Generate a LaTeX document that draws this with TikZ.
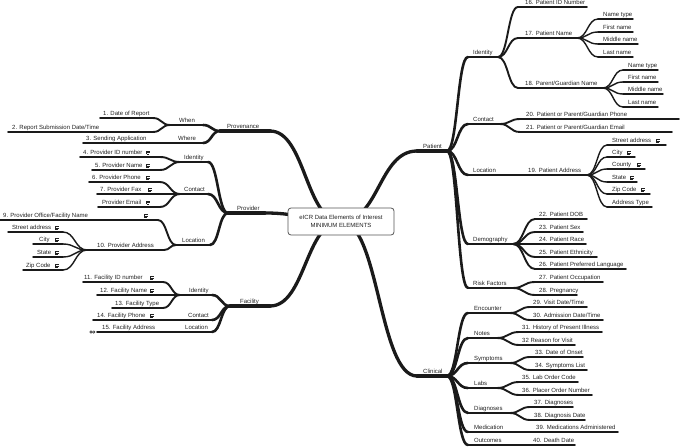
\documentclass[tikz,border=0pt]{standalone}
\usepackage{fontspec}
\setmainfont{Liberation Sans}
\usetikzlibrary{calc}
\definecolor{ink}{HTML}{1A1A1A}
\definecolor{txt}{HTML}{222222}
\definecolor{boxc}{HTML}{555555}
\newcommand\mmel[7]{%
  \coordinate (#1-L) at (#2,#4);
  \coordinate (#1-R) at (#3,#4);
  \draw[#6] (#1-L) -- (#1-R);
  \node[lbl] (#1) at (#5,#4-2.2) {#7};
}
\begin{document}
\begin{tikzpicture}[x=1pt,y=-1pt,
  every node/.style={font=\fontsize{6}{7}\selectfont, text=txt},
  lbl/.style={inner sep=0pt, anchor=base west},
  lA/.style={draw=ink,line width=3.3pt,line cap=round},
  lB/.style={draw=ink,line width=2.6pt,line cap=round},
  lC/.style={draw=ink,line width=1.9pt,line cap=round},
  lD/.style={draw=ink,line width=1.4pt,line cap=round},
  rc/.style={to path={let \p1=(\tikztostart),\p2=(\tikztotarget) in .. controls ({(\x1+\x2)/2},\y1) and ({(\x1+\x2)/2},\y2) .. (\tikztotarget)}},
  noteic/.pic={
    \draw[line width=0.45pt, draw=txt] (0,-1.6) -- (0,1.6);
    \draw[line width=0.45pt, draw=txt] (0.9,-1.3) -- (4.1,-1.3) (0.9,0) -- (4.1,0) (0.9,1.3) -- (3.1,1.3);
  }
]
\useasboundingbox (0,0) rectangle (680,447);
\coordinate (C) at (341,221.5);

% ---------- elements (coordinates, underline, label) ----------
\mmel{Pat}{417}{447}{151}{423}{lA}{Patient}
\mmel{Cli}{417}{447}{376}{423}{lA}{Clinical}
\mmel{PId}{468}{498}{57}{473}{lB}{Identity}
\mmel{PCo}{468}{500}{124}{473}{lB}{Contact}
\mmel{PLo}{468}{500}{175}{473}{lB}{Location}
\mmel{PDe}{468}{513}{244}{473}{lB}{Demography}
\mmel{PRi}{468}{513}{288}{473}{lB}{Risk Factors}
\mmel{e16}{518}{587}{7}{525}{lC}{16. Patient ID Number}
\mmel{e17}{518}{577}{38}{525}{lC}{17. Patient Name}
\mmel{e18}{518}{603}{88}{525}{lC}{18. Parent/Guardian Name}
\mmel{n1a}{598}{633}{19}{603}{lD}{Name type}
\mmel{n1b}{598}{633}{32}{603}{lD}{First name}
\mmel{n1c}{598}{638}{44}{603}{lD}{Middle name}
\mmel{n1d}{598}{633}{57}{603}{lD}{Last name}
\mmel{n2a}{623}{658}{70}{628}{lD}{Name type}
\mmel{n2b}{623}{658}{82}{628}{lD}{First name}
\mmel{n2c}{623}{663}{94}{628}{lD}{Middle name}
\mmel{n2d}{623}{658}{107}{628}{lD}{Last name}
\mmel{e20}{520}{679}{119}{526}{lC}{20. Patient or Parent/Guardian Phone}
\mmel{e21}{520}{672}{132}{526}{lC}{21. Patient or Parent/Guardian Email}
\mmel{e19}{520}{587}{175}{528}{lC}{19. Patient Address}
\mmel{a1}{607}{666}{145}{612}{lD}{Street address}
\mmel{a2}{607}{635}{157}{612}{lD}{City}
\mmel{a3}{607}{645}{169}{612}{lD}{County}
\mmel{a4}{607}{637}{182}{612}{lD}{State}
\mmel{a5}{607}{650}{194}{612}{lD}{Zip Code}
\mmel{a6}{607}{652}{207}{612}{lD}{Address Type}
\mmel{e22}{535}{587}{219}{539}{lC}{22. Patient DOB}
\mmel{e23}{535}{583}{232}{539}{lC}{23. Patient Sex}
\mmel{e24}{535}{586}{244}{539}{lC}{24. Patient Race}
\mmel{e25}{535}{597}{257}{539}{lC}{25. Patient Ethnicity}
\mmel{e26}{535}{626}{269}{539}{lC}{26. Patient Preferred Language}
\mmel{e27}{535}{603}{282}{539}{lC}{27. Patient Occupation}
\mmel{e28}{535}{577}{295}{539}{lC}{28. Pregnancy}
\mmel{CEn}{468}{510}{313}{474}{lB}{Encounter}
\mmel{CNo}{468}{497}{338}{474}{lB}{Notes}
\mmel{CSy}{468}{510}{363}{474}{lB}{Symptoms}
\mmel{CLa}{468}{497}{388}{474}{lB}{Labs}
\mmel{CDi}{468}{510}{413}{474}{lB}{Diagnoses}
\mmel{CMe}{468}{510}{432}{474}{lB}{Medication}
\mmel{COu}{468}{510}{445}{474}{lB}{Outcomes}
\mmel{e29}{530}{587}{307}{533}{lC}{29. Visit Date/Time}
\mmel{e30}{530}{603}{320}{533}{lC}{30. Admission Date/Time}
\mmel{e31}{519}{602}{332}{522}{lC}{31. History of Present Illness}
\mmel{e32}{519}{575}{345}{522}{lC}{32 Reason for Visit}
\mmel{e33}{530}{583}{357}{535}{lC}{33. Date of Onset}
\mmel{e34}{530}{587}{370}{535}{lC}{34. Symptoms List}
\mmel{e35}{519}{578}{382}{522}{lC}{35. Lab Order Code}
\mmel{e36}{519}{592}{395}{522}{lC}{36. Placer Order Number}
\mmel{e37}{530}{573}{407}{534}{lC}{37. Diagnoses}
\mmel{e38}{530}{585}{420}{534}{lC}{38. Diagnosis Date}
\mmel{e39}{530}{618}{432}{536}{lC}{39. Medications Administered}
\mmel{e40}{530}{575}{445}{533}{lC}{40. Death Date}
% left side
\mmel{Prv}{220}{270}{131}{227}{lA}{Provenance}
\mmel{Pro}{228}{265}{213}{237}{lA}{Provider}
\mmel{Fac}{230}{270}{306}{240}{lA}{Facility}
\mmel{When}{170}{203}{125}{179}{lB}{When}
\mmel{Where}{173}{203}{143}{178}{lB}{Where}
\mmel{e1}{100}{153}{118}{103}{lC}{1. Date of Report}
\mmel{e2}{8}{153}{132}{12}{lC}{2. Report Submission Date/Time}
\mmel{e3}{83}{153}{143}{86}{lC}{3. Sending Application}
\mmel{VId}{180}{208}{162}{184}{lB}{Identity}
\mmel{VCo}{180}{208}{194}{184}{lB}{Contact}
\mmel{VLo}{176}{210}{245}{182}{lB}{Location}
\mmel{e4}{80}{160}{157}{83}{lC}{4. Provider ID number}
\mmel{e5}{92}{160}{170}{95}{lC}{5. Provider Name}
\mmel{e6}{89}{160}{182}{92}{lC}{6. Provider Phone}
\mmel{e7}{97}{160}{194}{100}{lC}{7. Provider Fax}
\mmel{e8}{98}{160}{207}{102}{lC}{Provider Email}
\mmel{e9}{0}{158}{220}{3}{lC}{9. Provider Office/Facility Name}
\mmel{e10}{87}{164}{250}{97}{lC}{10. Provider Address}
\mmel{b1}{8}{63}{232}{12}{lD}{Street address}
\mmel{b2}{33}{63}{244}{39}{lD}{City}
\mmel{b3}{33}{63}{257}{37}{lD}{State}
\mmel{b4}{23}{63}{270}{26}{lD}{Zip Code}
\mmel{FId}{180}{212}{295}{189}{lB}{Identity}
\mmel{FCo}{183}{212}{320}{188}{lB}{Contact}
\mmel{FLo}{183}{212}{332}{185}{lB}{Location}
\mmel{e11}{83}{163}{282}{84}{lC}{11. Facility ID number}
\mmel{e12}{97}{163}{295}{100}{lC}{12. Facility Name}
\mmel{e13}{112}{163}{308}{115}{lC}{13. Facility Type}
\mmel{e14}{93}{163}{320}{97}{lC}{14. Facility Phone}
\mmel{e15}{97}{163}{332}{102}{lC}{15. Facility Address}

% ---------- connectors ----------
\foreach \t in {Pat,Cli} \draw[lA] (C) to[rc] (\t-L);
\foreach \t in {Prv,Pro,Fac} \draw[lA] (C) to[rc] (\t-R);
\foreach \t in {PId,PCo,PLo,PDe,PRi} \draw[lB] (Pat-R) to[rc] (\t-L);
\foreach \t in {e16,e17,e18} \draw[lC] (PId-R) to[rc] (\t-L);
\foreach \t in {n1a,n1b,n1c,n1d} \draw[lD] (e17-R) to[rc] (\t-L);
\foreach \t in {n2a,n2b,n2c,n2d} \draw[lD] (e18-R) to[rc] (\t-L);
\foreach \t in {e20,e21} \draw[lC] (PCo-R) to[rc] (\t-L);
\draw[lC] (PLo-R) to[rc] (e19-L);
\foreach \t in {a1,a2,a3,a4,a5,a6} \draw[lD] (e19-R) to[rc] (\t-L);
\foreach \t in {e22,e23,e24,e25,e26} \draw[lC] (PDe-R) to[rc] (\t-L);
\foreach \t in {e27,e28} \draw[lC] (PRi-R) to[rc] (\t-L);
\foreach \t in {CEn,CNo,CSy,CLa,CDi,CMe,COu} \draw[lB] (Cli-R) to[rc] (\t-L);
\foreach \t in {e29,e30} \draw[lC] (CEn-R) to[rc] (\t-L);
\foreach \t in {e31,e32} \draw[lC] (CNo-R) to[rc] (\t-L);
\foreach \t in {e33,e34} \draw[lC] (CSy-R) to[rc] (\t-L);
\foreach \t in {e35,e36} \draw[lC] (CLa-R) to[rc] (\t-L);
\foreach \t in {e37,e38} \draw[lC] (CDi-R) to[rc] (\t-L);
\draw[lC] (CMe-R) to[rc] (e39-L);
\draw[lC] (COu-R) to[rc] (e40-L);
\foreach \t in {When,Where} \draw[lB] (Prv-L) to[rc] (\t-R);
\foreach \t in {e1,e2} \draw[lC] (When-L) to[rc] (\t-R);
\draw[lC] (Where-L) to[rc] (e3-R);
\foreach \t in {VId,VCo,VLo} \draw[lB] (Pro-L) to[rc] (\t-R);
\foreach \t in {e4,e5} \draw[lC] (VId-L) to[rc] (\t-R);
\foreach \t in {e6,e7,e8} \draw[lC] (VCo-L) to[rc] (\t-R);
\foreach \t in {e9,e10} \draw[lC] (VLo-L) to[rc] (\t-R);
\foreach \t in {b1,b2,b3,b4} \draw[lD] (e10-L) to[rc] (\t-R);
\foreach \t in {FId,FCo,FLo} \draw[lB] (Fac-L) to[rc] (\t-R);
\foreach \t in {e11,e12,e13} \draw[lC] (FId-L) to[rc] (\t-R);
\draw[lC] (FCo-L) to[rc] (e14-R);
\draw[lC] (FLo-L) to[rc] (e15-R);

% ---------- note icons ----------
\foreach \px/\py in {146/152.5,146/166,146/178,148/190,146/202.5,144/216,55/228,55/240,55/253,55/266,150/278,150/291,150/316,656/141,627/153,637/165,630/178,641/190}
  \pic at (\px,\py) {noteic};
% collapsed indicator
\draw[line width=0.5pt, draw=txt, fill=white] (91,332) circle (1.2) (93.8,332) circle (1.2);

% ---------- root ----------
\node[draw=boxc, line width=0.8pt, rounded corners=3pt, fill=white,
  minimum width=106pt, minimum height=27pt, align=center, inner sep=0pt,
  font=\fontsize{6}{7.7}\selectfont] (root) at (C)
  {eICR Data Elements of Interest\\MINIMUM ELEMENTS};
\end{tikzpicture}
\end{document}
